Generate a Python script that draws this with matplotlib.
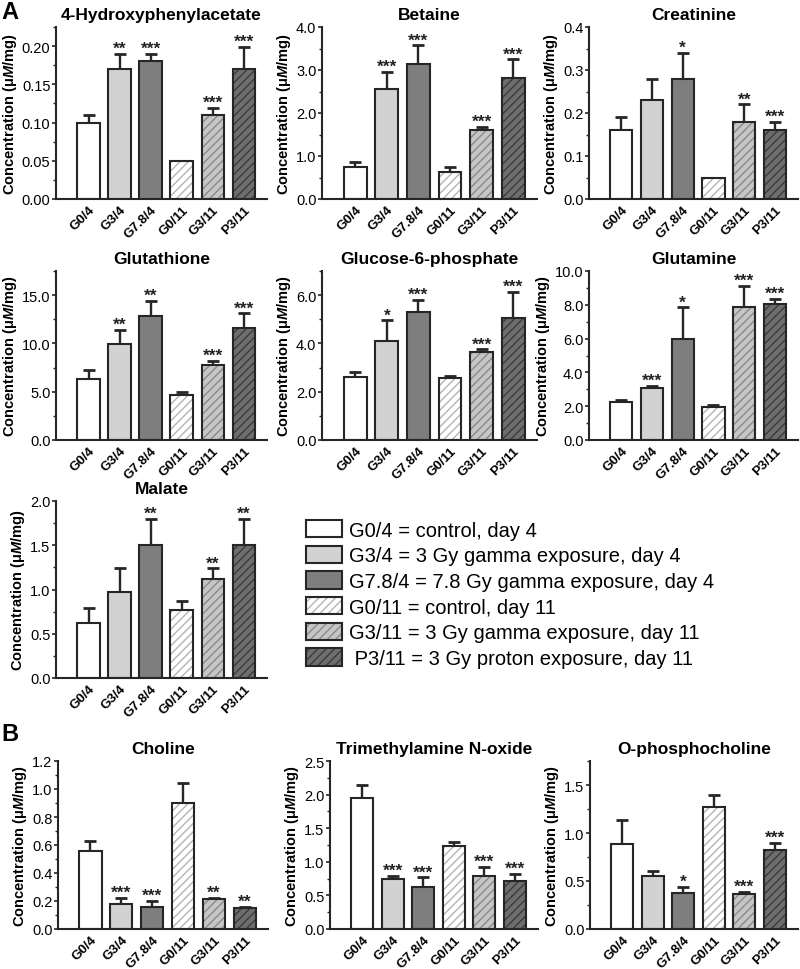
import matplotlib
matplotlib.use("Agg")
import matplotlib.pyplot as plt
from matplotlib.patches import Patch
from matplotlib.legend_handler import HandlerTuple
from matplotlib.ticker import MultipleLocator, AutoMinorLocator, FormatStrFormatter

plt.rcParams['font.family'] = ['Liberation Sans', 'DejaVu Sans']
plt.rcParams['mathtext.fontset'] = 'custom'
plt.rcParams['mathtext.it'] = 'Liberation Sans:bold:italic'
plt.rcParams['mathtext.rm'] = 'Liberation Sans:bold'
plt.rcParams['hatch.linewidth'] = 1.0

# groups and styling
groups = ["G0/4", "G3/4", "G7.8/4", "G0/11", "G3/11", "P3/11"]
legend_labels = ["G0/4 = control, day 4",
                 "G3/4 = 3 Gy gamma exposure, day 4",
                 "G7.8/4 = 7.8 Gy gamma exposure, day 4",
                 "G0/11 = control, day 11",
                 "G3/11 = 3 Gy gamma exposure, day 11",
                 " P3/11 = 3 Gy proton exposure, day 11"]
faces = ["#ffffff", "#d2d2d2", "#7e7e7e", "#ffffff", "#c6c6c6", "#6e6e6e"]
hatch_cols = [None, None, None, "#b4b4b4", "#8a8a8a", "#3c3c3c"]
edge = "#262626"

# values (mean, upper error, significance)
hpa_mean = [0.10, 0.17, 0.18, 0.05, 0.11, 0.17]
hpa_err = [0.01, 0.02, 0.01, 0.0, 0.009, 0.029]
hpa_sig = ["", "**", "***", "", "***", "***"]

betaine_mean = [0.75, 2.55, 3.15, 0.63, 1.60, 2.82]
betaine_err = [0.12, 0.40, 0.42, 0.12, 0.07, 0.43]
betaine_sig = ["", "***", "***", "", "***", "***"]

creat_mean = [0.16, 0.23, 0.28, 0.05, 0.18, 0.16]
creat_err = [0.03, 0.05, 0.06, 0.0, 0.04, 0.02]
creat_sig = ["", "", "*", "", "**", "***"]

gsh_mean = [6.3, 9.9, 12.8, 4.7, 7.8, 11.6]
gsh_err = [0.9, 1.5, 1.6, 0.3, 0.4, 1.5]
gsh_sig = ["", "**", "**", "", "***", "***"]

g6p_mean = [2.6, 4.1, 5.3, 2.55, 3.65, 5.05]
g6p_err = [0.2, 0.85, 0.5, 0.12, 0.1, 1.1]
g6p_sig = ["", "*", "***", "", "***", "***"]

gln_mean = [2.25, 3.1, 6.0, 1.95, 7.85, 8.05]
gln_err = [0.1, 0.12, 1.85, 0.15, 1.25, 0.3]
gln_sig = ["", "***", "*", "", "***", "***"]

malate_mean = [0.62, 0.97, 1.50, 0.77, 1.12, 1.50]
malate_err = [0.17, 0.27, 0.30, 0.10, 0.12, 0.30]
malate_sig = ["", "", "**", "", "**", "**"]

choline_mean = [0.56, 0.18, 0.16, 0.90, 0.215, 0.15]
choline_err = [0.07, 0.04, 0.04, 0.14, 0.01, 0.01]
choline_sig = ["", "***", "***", "", "**", "**"]

tmao_mean = [1.95, 0.75, 0.62, 1.24, 0.79, 0.72]
tmao_err = [0.20, 0.04, 0.15, 0.06, 0.14, 0.10]
tmao_sig = ["", "***", "***", "", "***", "***"]

pcho_mean = [0.89, 0.55, 0.38, 1.27, 0.36, 0.82]
pcho_err = [0.25, 0.05, 0.06, 0.13, 0.03, 0.08]
pcho_sig = ["", "", "*", "", "***", "***"]

# (title, mean, err, sig, ymax, step, fmt, axes rect in px: left, top, right, bottom)
panels = [
    ("4-Hydroxyphenylacetate", hpa_mean, hpa_err, hpa_sig, 0.225, 0.05, "%.2f", (56, 28, 267, 200)),
    ("Betaine", betaine_mean, betaine_err, betaine_sig, 4.0, 1.0, "%.1f", (322, 28, 537, 200)),
    ("Creatinine", creat_mean, creat_err, creat_sig, 0.4, 0.1, "%.1f", (589, 28, 798, 200)),
    ("Glutathione", gsh_mean, gsh_err, gsh_sig, 17.5, 5.0, "%.1f", (56, 272, 267, 441)),
    ("Glucose-6-phosphate", g6p_mean, g6p_err, g6p_sig, 7.0, 2.0, "%.1f", (322, 272, 537, 441)),
    ("Glutamine", gln_mean, gln_err, gln_sig, 10.0, 2.0, "%.1f", (589, 272, 798, 441)),
    ("Malate", malate_mean, malate_err, malate_sig, 2.0, 0.5, "%.1f", (56, 502, 267, 679)),
    ("Choline", choline_mean, choline_err, choline_sig, 1.2, 0.2, "%.1f", (58, 762, 268, 930)),
    ("Trimethylamine N-oxide", tmao_mean, tmao_err, tmao_sig, 2.5, 0.5, "%.1f", (330, 762, 538, 930)),
    ("O-phosphocholine", pcho_mean, pcho_err, pcho_sig, 1.75, 0.5, "%.1f", (590, 762, 798, 930)),
]

W, H = 800, 970
fig = plt.figure(figsize=(8, 9.7), dpi=100)

x = list(range(len(groups)))
for title, mean, err, sig, ymax, step, fmt, (l, t, r, b) in panels:
    ax = fig.add_axes([l / W, 1 - b / H, (r - l) / W, (b - t) / H])
    ax.bar(x, mean, width=0.72, color=faces, linewidth=0, zorder=2)
    for i in x:
        if hatch_cols[i]:
            ax.bar(i, mean[i], width=0.72, facecolor="none", edgecolor=hatch_cols[i],
                   hatch="////", linewidth=0, zorder=3)
    ax.bar(x, mean, width=0.72, facecolor="none", edgecolor=edge, linewidth=1.5, zorder=4)
    ax.errorbar(x, mean, yerr=[[0] * len(err), err], fmt="none", ecolor=edge,
                elinewidth=1.7, capsize=4, capthick=2.0, zorder=1)
    for i in x:
        if sig[i]:
            ax.text(i, mean[i] + err[i] - ymax * 0.012, sig[i], ha="center", va="bottom",
                    fontsize=12.5, fontweight="bold", color="#222222")
    ax.set_xlim(-1.05, 5.75)
    ax.set_ylim(0, ymax)
    ax.yaxis.set_major_locator(MultipleLocator(step))
    ax.yaxis.set_minor_locator(AutoMinorLocator(2))
    ax.yaxis.set_major_formatter(FormatStrFormatter(fmt))
    ax.set_xticks(x)
    ax.set_xticklabels(groups, rotation=45, ha="right", rotation_mode="anchor",
                       fontsize=9.5, fontweight="bold")
    ax.tick_params(axis="x", length=0, pad=3)
    ax.tick_params(axis="y", labelsize=10.5, width=1.2, length=3, pad=1, color=edge)
    ax.tick_params(axis="y", which="minor", width=1.0, length=2, color=edge)
    for s in ["top", "right"]:
        ax.spines[s].set_visible(False)
    for s in ["left", "bottom"]:
        ax.spines[s].set_linewidth(1.5)
        ax.spines[s].set_color(edge)
    ax.set_title(title, fontsize=12.5, fontweight="bold", pad=6)
    ax.set_ylabel("Concentration (μ$\\mathit{M}$/mg)", fontsize=10.5, fontweight="bold", labelpad=2)

fig.text(1 / W, 1 - 1 / H, "A", fontsize=17, fontweight="bold", va="top", ha="left")
fig.text(1 / W, 1 - 723 / H, "B", fontsize=17, fontweight="bold", va="top", ha="left")

# legend
handles = []
for i in x:
    base = Patch(facecolor=faces[i], edgecolor="none", linewidth=0)
    box = Patch(facecolor="none", edgecolor=edge, linewidth=1.5)
    if hatch_cols[i]:
        hat = Patch(facecolor="none", edgecolor=hatch_cols[i], hatch="////", linewidth=0)
        handles.append((base, hat, box))
    else:
        handles.append((base, box))
fig.legend(handles, legend_labels, handler_map={tuple: HandlerTuple(ndivide=1, pad=0)},
           loc="upper left", bbox_to_anchor=(304 / W, 1 - 519 / H), frameon=False,
           fontsize=14.5, handlelength=1.8, handleheight=0.95, handletextpad=0.35,
           labelspacing=0.3, borderaxespad=0, borderpad=0.1)

fig.savefig("out.png", dpi=100)
